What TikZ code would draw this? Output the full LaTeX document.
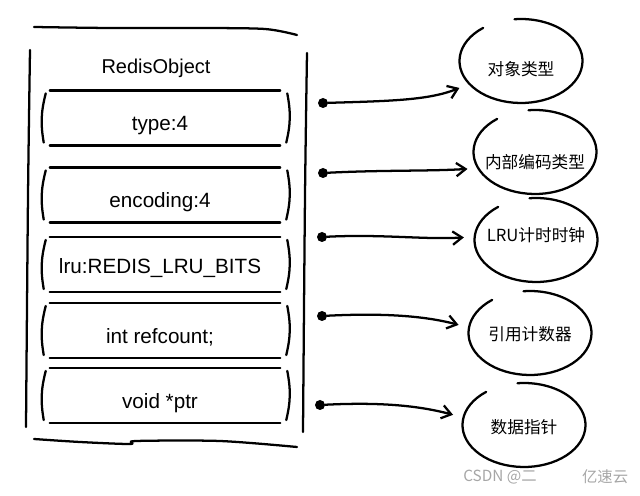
\documentclass[tikz,border=0pt]{standalone}
\usepackage{fontspec}
\setmainfont{Liberation Sans}
\newfontfamily\cjk{Noto Sans CJK SC}
\usetikzlibrary{calc,positioning,shapes.geometric,arrows.meta}

\begin{document}
\begin{tikzpicture}[x=0.75pt, y=0.75pt,
  sketch/.style = {line width=1.7pt, line cap=round, line join=round},
  field/.style  = {minimum width=174pt, minimum height=41pt, inner sep=0pt, text height=19pt, text depth=0pt, font=\fontsize{15.5}{18}\selectfont},
  blob/.style   = {ellipse, minimum width=92pt, minimum height=63pt, inner sep=0pt, text height=#1, text depth=0pt, font=\cjk\fontsize{12.5}{15}\selectfont},
  dot/.style    = {circle, fill, inner sep=0pt, minimum size=7.5pt},
  conn/.style   = {sketch, -{Straight Barb[length=7pt, width=10pt]}, shorten >=8pt},
  wmark/.style  = {text=black!35, font=\cjk\fontsize{11.5}{13}\selectfont}]
\useasboundingbox (0,0) rectangle (640,496);

% RedisObject
\node[font=\fontsize{15}{18}\selectfont] (title) at (156,428) {RedisObject};
\node[field] (field 1) at (160,378)   {type:4};
\node[field] (field 2) at (160,301)   {encoding:4};
\node[field, text height=13pt] (field 3) at (160,231.5) {lru:REDIS\_LRU\_BITS};
\node[field] (field 4) at (160,165.5) {int refcount;};
\node[field] (field 5) at (160,100.5) {void *ptr};

\draw[sketch] plot[smooth] coordinates {(34,469) (110,468) (200,468) (265,467) (297,461)};
\draw[sketch] plot[smooth] coordinates {(30,446) (28,300) (26,69)};
\draw[sketch] plot[smooth] coordinates {(307,443) (305,300) (303,64)};
\draw[sketch] plot[smooth] coordinates {(34,57) (80,54) (130,52) (136,55) (220,55) (297,49)};

\foreach \f in {1,...,5} {
  \draw[sketch] ($(field \f.north west)+(6,0)$) -- ($(field \f.north east)+(4,0)$);
  \draw[sketch] ($(field \f.south west)+(6,0)$) -- ($(field \f.south east)+(4,0)$);
  \draw[sketch] ($(field \f.north west)+(2,-3)$) to[bend right=12] ($(field \f.south west)+(0,3)$);
  \draw[sketch] ($(field \f.north east)+(11,-3)$) to[bend left=12] ($(field \f.south east)+(10,3)$);
}

% meanings
\node[blob=22pt] (blob 1) at (521,435) {\makebox[0pt]{对象类型}};
\node[blob=25pt] (blob 2) at (535,344) {\makebox[0pt]{内部编码类型}};
\node[blob=3pt]  (blob 3) at (536,256) {\makebox[0pt]{LRU计时时钟}};
\node[blob=12pt] (blob 4) at (530,163) {\makebox[0pt]{引用计数器}};
\node[blob=13pt] (blob 5) at (524,71)  {\makebox[0pt]{数据指针}};

\foreach \b in {1,...,5}
  \draw[sketch] ($(blob \b.center)+(128:61.5 and 42)$) arc[start angle=128, end angle=456, x radius=61.5, y radius=42];

\node[dot] (dot 1) at (323,393) {};
\node[dot] (dot 2) at (323,323) {};
\node[dot] (dot 3) at (322,259) {};
\node[dot] (dot 4) at (322,180) {};
\node[dot] (dot 5) at (320,91)  {};

\draw[conn] (dot 1) .. controls +(70,2) and +(-40,-16) .. (blob 1.204);
\draw[conn] (dot 2) .. controls +(60,3) and +(-50,-3) .. (blob 2.196);
\draw[conn] (dot 3) .. controls +(60,3) and +(-50,-3) .. (blob 3.177);
\draw[conn] (dot 4) .. controls +(60,3) and +(-45,12) .. (blob 4.175);
\draw[conn] (dot 5) .. controls +(60,3) and +(-45,12) .. (blob 5.173);

\node[wmark] (csdn) at (500,19) {CSDN @二};
\node[wmark, right=27pt of csdn] (yisu) {亿速云};

\end{tikzpicture}
\end{document}
